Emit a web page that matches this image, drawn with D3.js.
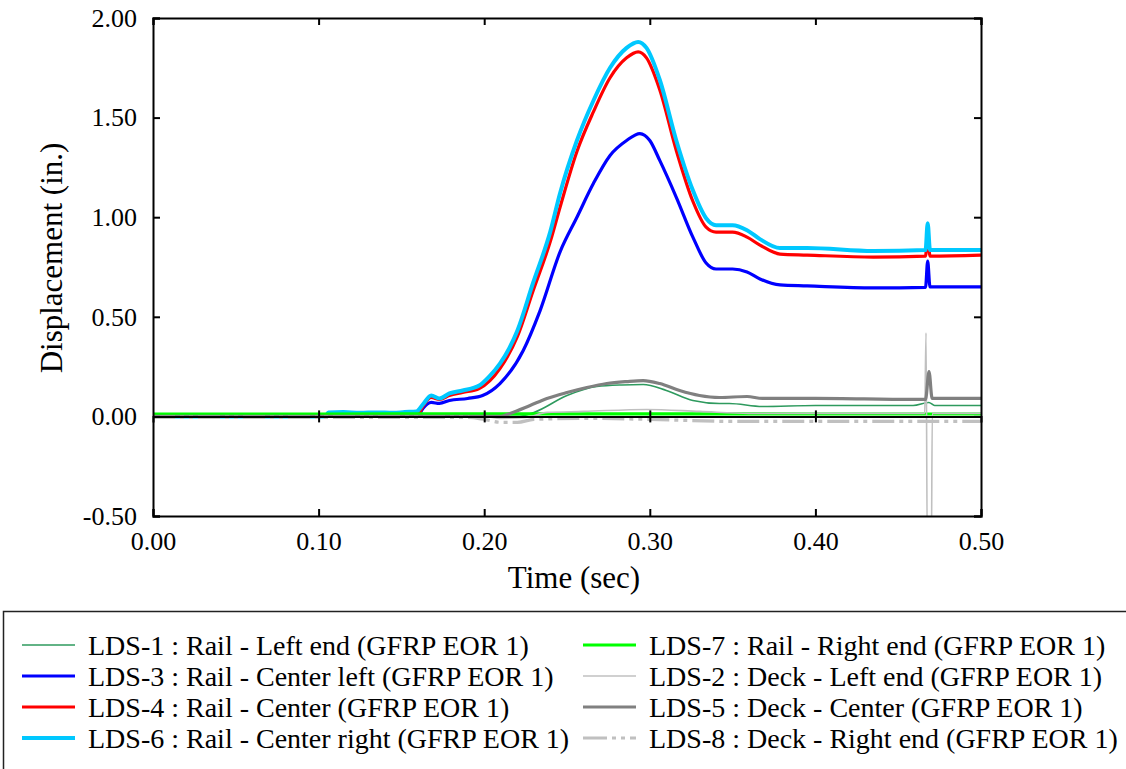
<!DOCTYPE html>
<html><head><meta charset="utf-8">
<script src="https://cdn.jsdelivr.net/npm/d3@7"></script>
<style>
html,body{margin:0;padding:0;background:#fff;}
</style></head>
<body>
<svg id="chart" width="1126" height="769"></svg>
<script>
// ---- data (time in sec, displacement in in.) ----
const xTicks = [0, 0.1, 0.2, 0.3, 0.4, 0.5];
const yTicks = [-0.5, 0, 0.5, 1.0, 1.5, 2.0];

const lds1 = [[0,0],[0.22,0.0],[0.23,0.02],[0.25,0.105],[0.268,0.15],[0.283,0.158],[0.296,0.16],[0.31,0.13],[0.326,0.08],[0.342,0.065],[0.348,0.065],[0.368,0.05],[0.4,0.055],[0.459,0.055],[0.4685,0.07],[0.472,0.055],[0.5,0.055]];
const lds3 = [[0,0.0],[0.16,0.005],[0.163,0.04],[0.168,0.07],[0.173,0.065],[0.179,0.08],[0.19,0.09],[0.199,0.105],[0.2095,0.165],[0.2235,0.33],[0.2337,0.53],[0.246,0.83],[0.256,1.0],[0.266,1.17],[0.276,1.31],[0.286,1.385],[0.294,1.42],[0.300,1.385],[0.306,1.285],[0.316,1.10],[0.326,0.90],[0.334,0.77],[0.340,0.74],[0.350,0.74],[0.3587,0.725],[0.3665,0.69],[0.3786,0.66],[0.395,0.655],[0.435,0.645],[0.4665,0.648],[0.4678,0.78],[0.4692,0.65],[0.5,0.65]];
const lds4 = [[0,0.0],[0.16,0.01],[0.163,0.05],[0.168,0.095],[0.173,0.085],[0.179,0.105],[0.187,0.12],[0.197,0.14],[0.2095,0.24],[0.22,0.4],[0.2295,0.63],[0.24,0.88],[0.2458,1.05],[0.256,1.33],[0.266,1.53],[0.276,1.7],[0.286,1.8],[0.293,1.83],[0.298,1.8],[0.306,1.64],[0.316,1.335],[0.326,1.08],[0.334,0.95],[0.34,0.925],[0.35,0.925],[0.3587,0.9],[0.3665,0.86],[0.3786,0.815],[0.395,0.81],[0.435,0.80],[0.4665,0.805],[0.4678,0.91],[0.4692,0.805],[0.5,0.81]];
const lds6 = [[0,0.0],[0.104,0.0],[0.106,0.02],[0.115,0.022],[0.125,0.018],[0.135,0.02],[0.145,0.018],[0.152,0.022],[0.159,0.025],[0.163,0.06],[0.168,0.105],[0.173,0.09],[0.179,0.115],[0.187,0.13],[0.197,0.155],[0.203,0.2],[0.2095,0.265],[0.215,0.34],[0.22,0.43],[0.2295,0.67],[0.24,0.93],[0.2458,1.12],[0.256,1.385],[0.266,1.586],[0.276,1.75],[0.286,1.85],[0.293,1.88],[0.298,1.85],[0.306,1.69],[0.316,1.385],[0.326,1.135],[0.334,0.995],[0.340,0.96],[0.350,0.96],[0.3587,0.935],[0.3665,0.89],[0.3786,0.845],[0.395,0.845],[0.435,0.83],[0.4665,0.835],[0.4678,0.97],[0.4692,0.835],[0.5,0.835]];
const lds7 = [[0,0.012],[0.1,0.012],[0.2,0.013],[0.3,0.013],[0.4,0.012],[0.5,0.012]];
const lds2 = [[0,0.0],[0.2,0.0],[0.21,-0.01],[0.225,-0.005],[0.238,0.02],[0.26,0.025],[0.298,0.035],[0.33,0.025],[0.36,0.015],[0.4,0.015],[0.466,0.015],[0.4668,0.42],[0.4676,-0.7],[0.4700,-0.7],[0.4706,0.015],[0.5,0.015]];
const lds5 = [[0,0],[0.21,0.0],[0.2156,0.015],[0.2277,0.055],[0.2379,0.09],[0.25,0.12],[0.262,0.145],[0.274,0.165],[0.286,0.175],[0.296,0.18],[0.306,0.165],[0.318,0.13],[0.330,0.105],[0.342,0.095],[0.3587,0.10],[0.368,0.09],[0.40,0.09],[0.459,0.085],[0.4665,0.085],[0.4686,0.225],[0.4705,0.09],[0.5,0.09]];
const lds8 = [[0,-0.005],[0.19,-0.005],[0.2,-0.015],[0.21,-0.03],[0.22,-0.03],[0.23,-0.015],[0.26,-0.01],[0.3,-0.015],[0.35,-0.025],[0.4,-0.025],[0.5,-0.025]];

const series = [
  {name:"LDS-1 : Rail - Left end (GFRP EOR 1)", data:lds1, color:"#2e9a5e", width:1.6, dash:null},
  {name:"LDS-3 : Rail - Center left (GFRP EOR 1)", data:lds3, color:"#0000ff", width:3.2, dash:null},
  {name:"LDS-4 : Rail - Center (GFRP EOR 1)", data:lds4, color:"#ff0000", width:3.2, dash:null},
  {name:"LDS-6 : Rail - Center right (GFRP EOR 1)", data:lds6, color:"#00c8ff", width:4, dash:null},
  {name:"LDS-7 : Rail - Right end (GFRP EOR 1)", data:lds7, color:"#00ff00", width:3.2, dash:null},
  {name:"LDS-2 : Deck - Left end (GFRP EOR 1)", data:lds2, color:"#c0c0c0", width:1.6, dash:null},
  {name:"LDS-5 : Deck - Center (GFRP EOR 1)", data:lds5, color:"#808080", width:3.2, dash:null},
  {name:"LDS-8 : Deck - Right end (GFRP EOR 1)", data:lds8, color:"#c0c0c0", width:3.2, dash:"22,5,4,5,4,5"}
];

// ---- layout ----
const FONT = "'Liberation Serif','Times New Roman',serif";
const svg = d3.select("#chart");
const L = 153, R = 981, T = 18, B = 516;
const x = d3.scaleLinear().domain([0, 0.5]).range([L, R]);
const y = d3.scaleLinear().domain([-0.5, 2.0]).range([B, T]);

svg.append("defs").append("clipPath").attr("id","clip")
  .append("rect").attr("x",L).attr("y",T).attr("width",R-L).attr("height",B-T);

const line = d3.line().x(d=>x(d[0])).y(d=>y(d[1])).curve(d3.curveMonotoneX);

const g = svg.append("g").attr("clip-path","url(#clip)");
series.forEach(s=>{
  g.append("path").attr("d", line(s.data)).attr("fill","none")
   .attr("stroke", s.color).attr("stroke-width", s.width)
   .attr("stroke-linejoin","round")
   .attr("stroke-dasharray", s.dash);
});

// zero axis line with crossing ticks
const zeroAxis = d3.axisBottom(x).tickValues(xTicks.slice(1,-1)).tickSize(6).tickFormat("");
const zg = svg.append("g").attr("transform",`translate(0,${y(0)})`).call(zeroAxis);
zg.select(".domain").attr("stroke","#000").attr("stroke-width",2);
zg.selectAll(".tick line").attr("y1",-6).attr("y2",6).attr("stroke-width",2);

// frame axes
const tickFmt = v => d3.format(".2f")(v).replace("\u2212","-");
const axBottom = svg.append("g").attr("transform",`translate(0,${B})`)
  .call(d3.axisBottom(x).tickValues(xTicks).tickSize(-7).tickPadding(16).tickFormat(tickFmt));
const axTop = svg.append("g").attr("transform",`translate(0,${T})`)
  .call(d3.axisTop(x).tickValues(xTicks).tickSize(-7).tickFormat(""));
const axLeft = svg.append("g").attr("transform",`translate(${L},0)`)
  .call(d3.axisLeft(y).tickValues(yTicks).tickSize(-7).tickPadding(16).tickFormat(tickFmt));
const axRight = svg.append("g").attr("transform",`translate(${R},0)`)
  .call(d3.axisRight(y).tickValues(yTicks).tickSize(-7).tickFormat(""));
[axBottom, axTop, axLeft, axRight].forEach(a=>{
  a.attr("font-family", FONT);
  a.select(".domain").attr("stroke","#000").attr("stroke-width",2);
  a.selectAll(".tick line").attr("stroke","#000").attr("stroke-width",2);
  a.selectAll("text").style("font-family",FONT).style("font-size","26px").attr("fill","#000");
});

// axis titles
svg.append("text").attr("x",574).attr("y",588).attr("text-anchor","middle")
  .style("font-family",FONT).style("font-size","31px").text("Time (sec)");
svg.append("text").attr("transform",`translate(62,258) rotate(-90)`).attr("text-anchor","middle")
  .style("font-family",FONT).style("font-size","31px").text("Displacement (in.)");

// legend
svg.append("rect").attr("x",3.5).attr("y",611.5).attr("width",1140).attr("height",200)
  .attr("fill","none").attr("stroke","#222").attr("stroke-width",1.5);
const legCols = [22, 583];
const legRows = [645, 676, 707, 738];
series.forEach((s,i)=>{
  const cx = legCols[Math.floor(i/4)], cy = legRows[i%4];
  svg.append("line").attr("x1",cx).attr("x2",cx+53).attr("y1",cy).attr("y2",cy)
    .attr("stroke",s.color).attr("stroke-width",s.width)
    .attr("stroke-dasharray", s.dash ? "24,5,4,5,4,5" : null);
  svg.append("text").attr("x",cx+66).attr("y",cy+10)
    .style("font-family",FONT).style("font-size","28px").text(s.name);
});
</script>
</body></html>
